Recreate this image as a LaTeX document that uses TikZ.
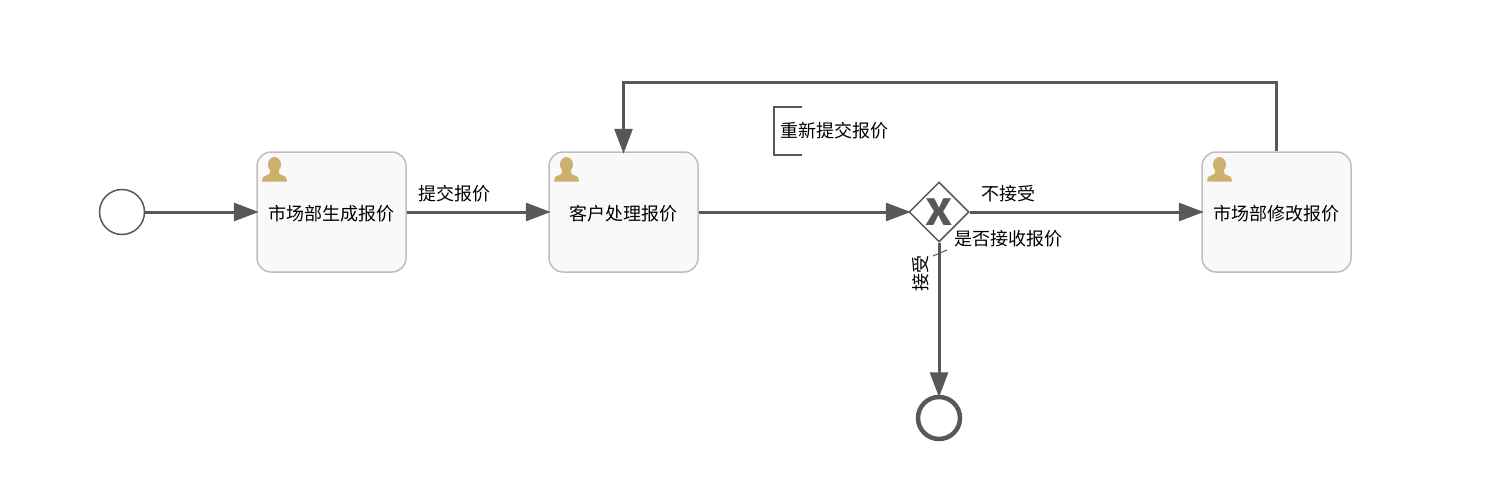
\documentclass[tikz,border=0pt]{standalone}
\usepackage{fontspec}
\setmainfont{Noto Sans CJK SC}
\usepackage{xcolor}
\usetikzlibrary{shapes.geometric, arrows.meta, positioning, calc}
\definecolor{flowcolor}{RGB}{88, 88, 88}
\definecolor{taskcolor}{RGB}{249, 249, 249}
\definecolor{taskborder}{RGB}{190, 190, 190}
\definecolor{usercolor}{RGB}{205, 176, 110}
\tikzstyle{task} = [rectangle, rounded corners=14pt, minimum width=149pt, minimum height=120pt, text centered, draw=taskborder, line width=1.5pt, fill=taskcolor, inner sep=0pt, text height=17.7pt, text depth=0pt, font=\fontsize{18}{20}\selectfont]
\tikzstyle{startevent} = [circle, minimum size=45pt, inner sep=0pt, draw=flowcolor, line width=1.5pt, fill=white]
\tikzstyle{endevent} = [circle, minimum size=42pt, inner sep=0pt, draw=flowcolor, line width=4.5pt, fill=white]
\tikzstyle{gateway} = [diamond, minimum size=60pt, inner sep=0pt, draw=flowcolor, line width=1.5pt, fill=white, text=flowcolor, font=\fontsize{36}{36}\selectfont\bfseries]
\tikzstyle{flowlabel} = [inner sep=0pt, font=\fontsize{18}{20}\selectfont]
\tikzstyle{arrow} = [line width=3pt, draw=flowcolor, shorten >=-2.5pt, -{Triangle[length=25pt, width=18pt]}]
\tikzstyle{thinline} = [line width=1.2pt, draw=flowcolor]
\tikzset{usericon/.pic={
    \fill[usercolor] (0, -5.5) ellipse (6.5pt and 7.5pt);
    \fill[usercolor] (-12.5, 11.5) -- (-11.5, 7) -- (-5, 4) -- (-4, -1) -- (4, -1) -- (5, 4) -- (11.5, 7) -- (12.5, 11.5) -- cycle;
}}

\begin{document}
\begin{tikzpicture}[x=1pt, y=-1pt]
    \useasboundingbox (0, 0) rectangle (1485, 485);

    % Events
    \node[startevent] (start) at (122, 212) {};
    \node[endevent] (end) at (939, 418) {};

    % Tasks
    \node[task] (generate) at (331.5, 212) {市场部生成报价};
    \node[task] (customer) at (623.5, 212) {客户处理报价};
    \node[task] (revise) at (1276.5, 212) {市场部修改报价};
    \pic at (274.5, 170) {usericon};
    \pic at (566.5, 170) {usericon};
    \pic at (1219.5, 170) {usericon};

    % Gateway
    \node[gateway] (decide) at (939, 212) {\scalebox{1.15}[1]{X}};

    % Annotation
    \coordinate (notetop) at (802, 107);
    \coordinate (notebottom) at (802, 155);
    \node[flowlabel, anchor=west] (note) at (780, 131) {重新提交报价};
    \draw[thinline] (notetop) -- (774, 107) -- (774, 155) -- (notebottom);

    % Arrows
    \draw[arrow] (start) -- (generate);
    \draw[arrow] (generate) -- (customer);
    \draw[arrow] (customer) -- (decide);
    \draw[arrow] (decide) -- (revise);
    \draw[arrow] (decide) -- (end);
    \draw[arrow] (revise.north) -- ++(0, -69) -| (customer.north);

    % Labels
    \node[flowlabel] (submit) at (454.5, 194) {提交报价};
    \node[flowlabel] (reject) at (1008, 194) {不接受};
    \node[flowlabel, anchor=west] (question) at (954, 239) {是否接收报价};
    \node[flowlabel, rotate=90] (accept) at (921, 273) {接受};
    \coordinate (tickleft) at (933, 256);
    \coordinate (tickright) at (947, 250);
    \draw[line width=1pt, draw=flowcolor] (tickleft) -- (tickright);
\end{tikzpicture}
\end{document}
